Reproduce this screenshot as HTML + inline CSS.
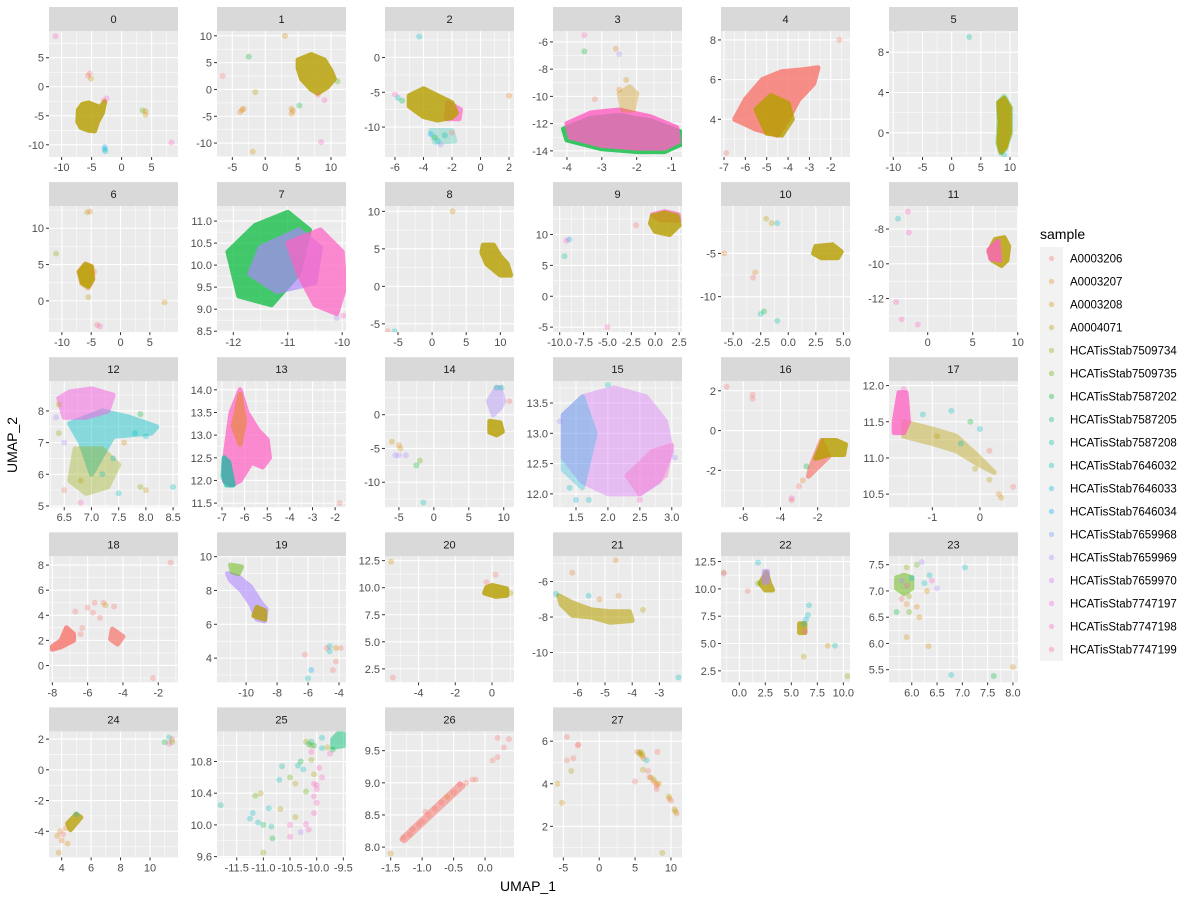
<!DOCTYPE html>
<html><head><meta charset="utf-8">
<style>
html,body{margin:0;padding:0;background:#fff;}
svg{display:block;font-family:"Liberation Sans","DejaVu Sans",sans-serif;}
</style></head>
<body>
<svg id="chart" width="1200" height="900" viewBox="0 0 1200 900" xmlns="http://www.w3.org/2000/svg">
<rect width="1200" height="900" fill="#fff"/>
<text x="528" y="891" text-anchor="middle" font-size="14" fill="#000">UMAP_1</text>
<text x="0" y="0" transform="translate(17,445) rotate(-90)" text-anchor="middle" font-size="14" fill="#000">UMAP_2</text>
</svg>
<script>
// ---- data ----
const samples = ["A0003206","A0003207","A0003208","A0004071","HCATisStab7509734","HCATisStab7509735","HCATisStab7587202","HCATisStab7587205","HCATisStab7587208","HCATisStab7646032","HCATisStab7646033","HCATisStab7646034","HCATisStab7659968","HCATisStab7659969","HCATisStab7659970","HCATisStab7747197","HCATisStab7747198","HCATisStab7747199"];
const clusterIds = [0,1,2,3,4,5,6,7,8,9,10,11,12,13,14,15,16,17,18,19,20,21,22,23,24,25,26,27];
const xLimits = [[-12.1,9.4],[-7.33,12.28],[-6.7,2.35],[-4.4,-0.7],[-7.14,-1.1],[-10.74,11.37],[-12.2,9.8],[-12.3,-9.93],[-6.9,12],[-10.7,2.8],[-6.1,5.6],[-4.3,10.03],[6.22,8.59],[-7.22,-1.52],[-6.99,11.47],[1.14,3.16],[-7.2,-0.26],[-1.91,0.8],[-8.19,-0.88],[-11.88,-3.55],[-5.83,1.2],[-6.91,-2.17],[-1.76,10.64],[5.55,8.1],[3.14,11.9],[-11.87,-9.45],[-1.59,0.46],[-6.44,11.54]];
const yLimits = [[-12.1,9.6],[-12.6,10.9],[-14.3,3.8],[-14.45,-5.2],[2.1,8.45],[-2.4,10.1],[-4.3,13.05],[8.48,11.34],[-6.1,10.7],[-5.8,14.6],[-14.1,0.47],[-13.93,-6.68],[4.96,8.94],[11.41,14.19],[-13.7,4.96],[11.78,13.86],[-3.85,2.48],[10.32,12.06],[-1.34,8.7],[2.57,10.02],[1.26,12.9],[-11.68,-4.58],[1.45,12.98],[5.26,7.66],[-5.7,2.5],[9.59,11.18],[7.84,9.8],[0.54,6.46]];
const xTicks = [[-10,-5,0,5],[-5,0,5,10],[-6,-4,-2,0,2],[-4,-3,-2,-1],[-7,-6,-5,-4,-3,-2],[-10,-5,0,5,10],[-10,-5,0,5],[-12,-11,-10],[-5,0,5,10],[-10,-7.5,-5,-2.5,0,2.5],[-5,-2.5,0,2.5,5],[0,5,10],[6.5,7,7.5,8,8.5],[-7,-6,-5,-4,-3,-2],[-5,0,5,10],[1.5,2,2.5,3],[-6,-4,-2],[-1,0],[-8,-6,-4,-2],[-10,-8,-6,-4],[-4,-2,0],[-6,-5,-4,-3],[0,2.5,5,7.5,10],[6,6.5,7,7.5,8],[4,6,8,10],[-11.5,-11,-10.5,-10,-9.5],[-1.5,-1,-0.5,0],[-5,0,5,10]];
const yTicks = [[-10,-5,0,5],[-10,-5,0,5,10],[-10,-5,0],[-14,-12,-10,-8,-6],[4,6,8],[0,4,8],[0,5,10],[8.5,9,9.5,10,10.5,11],[-5,0,5,10],[-5,0,5,10],[-10,-5],[-12,-10,-8],[5,6,7,8],[11.5,12,12.5,13,13.5,14],[-10,-5,0],[12,12.5,13,13.5],[-2,0,2],[10.5,11,11.5,12],[0,2,4,6,8],[4,6,8,10],[2.5,5,7.5,10,12.5],[-10,-8,-6],[2.5,5,7.5,10,12.5],[5.5,6,6.5,7,7.5],[-4,-2,0,2],[9.6,10,10.4,10.8],[8,8.5,9,9.5],[2,4,6]];
const xDigits = [0,0,0,0,0,0,0,0,0,1,1,0,1,0,0,1,0,0,0,0,0,0,1,1,0,1,1,0];
const yDigits = [0,0,0,0,0,0,0,1,0,0,0,0,0,1,0,1,0,1,0,0,1,0,1,1,0,1,1,0];
// dense clouds: [panel, sampleIndex, polygon x,y,..., density(0-1)]
const clouds = [
[0,3,[-7.2,-4,-6.5,-3,-5.5,-2.8,-4.5,-3.2,-3.6,-3.6,-2.8,-2.6,-3.2,-4.5,-4,-6,-4.5,-7.6,-5.5,-7.5,-6.8,-7,-7.3,-6],0.85],
[1,3,[5,5.5,7,6.5,9,5.5,10,3.5,10.5,2,9.5,0.5,8,-0.7,7,0,5.5,2,5,4],0.85],
[2,16,[-2.3,-6.5,-1.4,-7.5,-1.5,-8.8,-2.4,-8.8],0.7],
[2,3,[-5,-5.5,-4,-4.5,-3,-5.5,-2,-6.5,-1.7,-8,-2,-8.6,-3,-9,-4,-8.5,-5,-7],0.85],
[2,8,[-3.5,-10.5,-2,-10.5,-1.8,-12,-3.2,-12.2],0.25],
[3,6,[-4.1,-12.4,-3.3,-11.6,-2.5,-11.4,-1.6,-11.8,-0.75,-12.6,-0.72,-13.5,-1.2,-14.05,-2,-14.05,-3,-13.85,-4,-13.2],0.8],
[3,16,[-4,-12,-3.3,-11.2,-2.5,-11,-1.6,-11.5,-0.85,-12.3,-0.8,-13.3,-1.2,-13.8,-2,-13.8,-3,-13.6,-3.9,-13],0.85],
[3,2,[-2.4,-11,-2.5,-9.8,-2.2,-9.3,-2.0,-9.8,-2.1,-11],0.35],
[4,0,[-6,5,-5.2,6,-4.3,6.4,-3.3,6.5,-2.6,6.6,-2.8,5.8,-3.5,5,-4,4,-4.5,3.2,-5.5,3.5,-6.5,4,-6.2,4.6],0.85],
[4,3,[-5.5,4.5,-4.8,5.2,-4,4.8,-3.8,4,-4.3,3.2,-5,3.3],0.85],
[5,6,[8,3,9,3.6,10.1,2.5,10.1,0,9.2,-1.6,8.4,-2,7.9,-1,8.1,1],0.35],
[5,3,[8.1,3,9,3.4,9.9,2.5,9.9,0,9.2,-1.4,8.5,-1.9,8.1,-1,8.3,1],0.85],
[6,1,[-7.1,4,-6,5.1,-4.9,4.7,-4.7,3,-5.5,1.8,-6.6,2.4],0.5],
[6,3,[-7,4,-6,5,-5,4.7,-4.8,3,-5.5,2,-6.5,2.5],0.85],
[7,6,[-12.1,10.3,-11.6,10.9,-11,11.2,-10.6,10.8,-10.8,9.8,-11.3,9.1,-11.9,9.3],0.75],
[7,13,[-11.5,10.4,-10.8,10.8,-10.4,10.4,-10.5,9.6,-11.2,9.4,-11.7,9.8],0.7],
[7,16,[-11,10.5,-10.4,10.8,-10,10.3,-9.95,9.5,-10.1,8.9,-10.5,9.1,-10.8,9.8],0.75],
[8,3,[7.5,5.5,9,5.5,10,4,11,3,11.5,1.5,10,1.5,8,3,7.3,4.5],0.85],
[9,16,[-0.3,13.2,1,13.7,2.4,13.2,2.5,12.3,0.5,12.4],0.7],
[9,3,[-0.3,13,1,13.5,2.3,13,2.5,11.5,1.5,10,0,10.5,-0.5,11.8],0.85],
[10,3,[2.5,-4.2,4,-4,4.8,-4.8,4.5,-5.5,3,-5.5,2.3,-5],0.85],
[11,3,[7.5,-8.6,8.5,-8.5,9,-9,8.8,-9.8,8.2,-10.1,7.2,-9.8,6.8,-9.3],0.85],
[11,16,[6.8,-9.2,7.8,-8.7,8,-9.8,7,-9.7],0.8],
[12,9,[6.6,7.6,7.2,8.0,7.7,7.8,8.2,7.5,8.1,7.3,7.4,7.2,7.2,6.6,7.0,6.0,6.8,7.0],0.45],
[12,15,[6.4,8.4,6.6,8.6,7.0,8.7,7.4,8.5,7.3,8.0,6.9,7.8,6.5,7.8],0.55],
[12,4,[6.7,6.8,7.2,6.8,7.5,6.3,7.3,5.6,6.9,5.4,6.6,5.8],0.35],
[13,16,[-6.9,12.4,-6.6,13.5,-6.2,14,-5.9,13.5,-5.4,13.1,-5,12.9,-4.9,12.5,-5.2,12.3,-5.7,12.4,-6.2,12.0,-6.6,11.9,-6.9,12],0.75],
[13,8,[-6.9,12.5,-6.7,12.4,-6.5,11.9,-6.8,11.9,-6.95,12.1],0.7],
[13,1,[-6.5,13.2,-6.2,13.9,-6.0,13.3,-6.2,12.8],0.6],
[14,13,[7.8,2,8.5,0,9.5,1,10,2,9.5,4,9,4],0.4],
[14,3,[8,-1,9.5,-1.2,9.8,-2.5,9,-3,8,-2.6],0.85],
[15,14,[1.3,13.3,1.6,13.6,2.1,13.75,2.6,13.6,2.9,13.2,3.0,12.7,2.8,12.2,2.5,12.0,2.0,12.0,1.6,12.2,1.3,12.6],0.4],
[15,10,[1.3,13.3,1.6,13.6,1.8,13,1.6,12.1,1.3,12.4],0.3],
[15,16,[2.3,12.3,2.7,12.7,3.0,12.8,2.9,12.3,2.5,12.0],0.35],
[16,0,[-2.4,-1.9,-1.8,-0.5,-1.4,-1.3,-2.5,-2.3],0.7],
[16,3,[-2.1,-1.4,-1.7,-0.5,-1,-0.5,-0.5,-0.7,-0.6,-1.2,-1.4,-1.2],0.85],
[17,3,[-1.6,11.5,-1,11.4,-0.5,11.3,0,11,0.3,10.8,0,10.9,-0.5,11.1,-1,11.2,-1.6,11.3],0.4],
[17,16,[-1.8,11.5,-1.7,11.9,-1.55,11.9,-1.5,11.5,-1.6,11.35,-1.8,11.35],0.8],
[18,0,[-8,1.5,-7.5,2,-7.2,3,-6.8,2.5,-6.8,2,-7.5,1.5,-8,1.3],0.85],
[18,0,[-4.6,2.9,-4,2.3,-4.3,1.7,-4.7,2.1],0.75],
[19,13,[-11.2,9,-10.5,8.8,-9.7,8.2,-9,7.2,-8.7,6.9,-8.8,6.2,-9.3,6.3,-9.7,7.2,-10.3,8,-11,8.6],0.6],
[19,3,[-9.3,7,-8.8,6.8,-8.8,6.3,-9.5,6.5],0.8],
[19,5,[-11,9.5,-10.3,9.4,-10.5,9.0,-10.9,9.1],0.5],
[20,3,[-0.3,10,0,10.2,0.8,9.9,0.8,9.3,0.2,9.2,-0.4,9.5],0.85],
[21,3,[-6.7,-6.8,-6.2,-7.2,-5.5,-7.6,-4.8,-7.7,-4.1,-7.7,-4,-8.2,-4.8,-8.3,-5.5,-8,-6.2,-7.9,-6.6,-7.3],0.6],
[22,3,[2,10.5,2.6,11.5,2.9,10.5,3.2,9.9,2.5,9.9],0.8],
[22,13,[2.4,11.6,2.7,11.6,2.7,10.6,2.4,10.6],0.6],
[22,3,[5.8,6.8,6.3,6.8,6.3,6,5.8,6],0.8],
[23,5,[5.7,7.25,5.85,7.3,6.0,7.25,6.0,7.05,5.85,6.95,5.7,7.05],0.5],
[24,3,[4.4,-3.5,5,-2.9,5.3,-3.1,4.6,-3.9],0.8],
[25,7,[-9.7,11.08,-9.6,11.15,-9.5,11.15,-9.5,11.0,-9.7,10.98],0.5],
[26,0,[-1.32,8.12,-1.25,8.2,-0.4,8.98,-0.35,8.95,-1.28,8.1],0.55]
];
// isolated points: [panel, x, y, sampleIndex]
const points = [
[0,-11,8.7,16],[0,-5.6,1.9,0],[0,-5.3,2.3,0],[0,-5.1,1.4,2],[0,-2.5,-2,15],[0,-3,-2.4,0],[0,3.5,-4.1,5],[0,4,-4.2,2],[0,4,-4.8,2],[0,-2.8,-10.4,11],[0,-2.8,-10.8,10],[0,-2.7,-11.1,9],[0,8.3,-9.6,16],
[1,-6.5,2.5,0],[1,3,10,2],[1,-2.5,6.1,6],[1,-1.5,-0.5,3],[1,-3.5,-3.8,2],[1,-3.8,-4.2,1],[1,-3.3,-3.6,1],[1,4,-3.6,2],[1,4,-4.5,2],[1,4.2,-4,1],[1,5.2,-3,6],[1,-1.9,-11.6,2],[1,8.5,-9.8,16],[1,9,-2,16],[1,11,1.5,5],[1,8,-1,0],
[2,-5.8,-5.8,9],[2,-5.5,-6.2,6],[2,-6,-5.3,16],[2,-4.3,3,9],[2,2,-5.5,1],[2,-3.5,-11,11],[2,-2.8,-12.5,13],[2,-3.2,-11.5,6],[2,-2.5,-11.2,8],[2,-2,-10.8,0],[2,-3,-12,9],
[3,-3.5,-5.5,16],[3,-3.5,-6.7,6],[3,-2.6,-6.5,1],[3,-2.5,-6.9,13],[3,-2.3,-8.8,2],[3,-2.5,-9.5,1],[3,-3.2,-10.2,0],
[4,-1.6,8,0],[4,-6.9,2.3,0],
[5,-9.7,10.3,15],[5,3,9.5,8],[5,9,-2.2,9],
[6,-11,6.5,4],[6,-5.7,12.2,3],[6,-5.2,12.3,1],[6,-4.5,4,1],[6,-4,-3.3,0],[6,-3.5,-3.5,16],[6,7.5,-0.2,2],[6,-5.5,0.5,3],
[7,-10.1,8.8,13],[7,-9.98,8.85,16],
[8,3,10,2],[8,-6.5,-6,0],[8,-5.5,-6,9],
[9,-9,9.2,11],[9,-9.3,9,16],[9,-9.5,6.5,8],[9,-2,11.5,0],[9,-5,-5,16],
[10,-2,-1,3],[10,-1.5,-1.5,3],[10,-1,-1.5,9],[10,-3,-7.2,1],[10,-3.2,-7.8,0],[10,-5.8,-5,1],[10,-2.5,-12,8],[10,-2.2,-11.7,6],[10,-1,-12.8,8],
[11,-2.2,-7,16],[11,-3.3,-7.4,9],[11,-2.1,-8.2,16],[11,-3.5,-12.2,16],[11,-2.9,-13.2,16],[11,-1.1,-13.5,16],
[12,6.4,8.2,3],[12,6.35,7.8,13],[12,6.4,7.3,4],[12,6.5,7,13],[12,7.8,7.3,9],[12,8,7.2,9],[12,8.5,5.6,9],[12,7.9,5.6,4],[12,8,5.5,2],[12,6.5,5.5,0],[12,6.8,5.1,16],[12,7.5,5.4,9],[12,7.6,7,2],[12,6.8,5.8,3],[12,7.2,6,9],[12,7.4,6.5,9],[12,7.9,7.9,6],
[13,-1.8,11.5,0],
[14,9,4,8],[14,9.7,4,8],[14,10.8,2,0],[14,-6,-4,2],[14,-5,-4.5,1],[14,-4.8,-5,2],[14,-5,-6,13],[14,-4,-6,13],[14,-5.5,-6,13],[14,-2.5,-7.5,6],[14,-2,-6.8,5],[14,-1.5,-13,9],
[15,1.25,13.2,13],[15,1.4,12.1,9],[15,1.5,11.9,10],[15,1.7,11.9,9],[15,2.0,13.8,9],[15,3.05,12.6,13],[15,2.5,11.9,16],
[16,-2.8,-2.5,1],[16,-3,-2.8,0],[16,-3.4,-3.4,16],[16,-3.4,-3.5,0],[16,-2.6,-1.8,6],[16,-6.9,2.2,0],[16,-5.5,1.8,0],[16,-5.5,1.6,0],
[17,-0.9,11.3,3],[17,-0.4,11.2,9],[17,-0.2,11.5,6],[17,0,11.4,9],[17,0.2,11.1,0],[17,0.4,10.5,1],[17,0.45,10.45,2],[17,0.7,10.6,0],[17,-0.1,10.85,3],[17,-0.6,11.65,9],[17,-1.2,11.6,9],[17,0.2,10.7,3],[17,-1.6,11.95,16],
[18,-6.7,4.3,0],[18,-6,4.6,0],[18,-5.6,5,0],[18,-5.1,5,0],[18,-5,4.8,2],[18,-5.7,4.2,0],[18,-5.3,3.8,0],[18,-4.5,4.7,0],[18,-1.3,8.2,0],[18,-2.3,-1,0],[18,-6.3,3,0],[18,-6.4,2.5,0],
[19,-6.2,4.2,0],[19,-6,2.8,9],[19,-5.8,3.3,11],[19,-4.6,4.7,9],[19,-4.6,4.4,9],[19,-4.2,4.6,2],[19,-3.9,4.6,0],[19,-4.2,3.8,0],[19,-4.4,3.3,0],[19,-4.8,4.6,0],
[20,-5.5,12.4,2],[20,-5.4,1.7,0],[20,0.2,11.2,0],[20,-0.3,10.5,0],[20,1,9.5,3],
[21,-6.2,-5.5,1],[21,-4.6,-4.8,1],[21,-5.6,-6.8,9],[21,-5.2,-7,1],[21,-4.5,-6.8,1],[21,-3.6,-7.6,3],[21,-2.3,-11.4,9],[21,-6.8,-6.7,9],
[22,-1.5,11.5,4],[22,-1.5,11.4,16],[22,0.8,9.8,0],[22,1.8,12.4,9],[22,1.8,10.5,5],[22,6.2,6.8,9],[22,6.4,7.2,10],[22,6.6,7.6,9],[22,6.7,8.5,9],[22,6.2,3.8,3],[22,8.5,4.8,2],[22,9.2,4.8,8],[22,10.4,2,4],[22,6.3,6.1,16],
[23,5.8,7.2,13],[23,5.9,7.1,16],[23,6,7.25,10],[23,6.2,7.55,13],[23,6.1,7.5,5],[23,5.9,7.45,4],[23,6.35,7.3,9],[23,6.4,7.2,16],[23,6.25,7.15,9],[23,6.5,7.05,13],[23,7.05,7.45,9],[23,5.7,6.6,6],[23,5.8,6.85,0],[23,5.9,6.75,1],[23,5.95,6.6,5],[23,6.1,6.7,1],[23,6.15,6.5,2],[23,6.3,7,2],[23,5.9,6.12,2],[23,6.33,5.95,2],[23,6.78,5.4,9],[23,7.62,5.38,6],[23,8,5.55,2],[23,5.95,6.9,4],
[24,3.9,-4,1],[24,3.7,-4.3,2],[24,4,-4.6,1],[24,4.3,-3.8,1],[24,4.4,-4.8,2],[24,3.8,-5.4,2],[24,4.1,-4.2,0],[24,5,-2.9,9],[24,11,1.8,6],[24,11.3,2.1,9],[24,11.5,2,0],[24,11.3,1.7,16],[24,11.5,1.8,4],
[25,-11.8,10.25,8],[25,-11.15,10.37,5],[25,-11.05,10.4,3],[25,-11.2,10.15,9],[25,-11.25,10.08,9],[25,-11.1,10.03,9],[25,-11.0,10.0,6],[25,-10.9,10.21,9],[25,-10.85,9.98,8],[25,-10.83,9.83,6],[25,-11.0,9.65,4],[25,-10.7,10.57,9],[25,-10.65,10.74,8],[25,-10.68,10.2,3],[25,-10.5,10.6,5],[25,-10.4,10.52,3],[25,-10.35,10.75,8],[25,-10.3,10.8,6],[25,-10.25,10.7,9],[25,-10.2,10.42,5],[25,-10.5,10.0,16],[25,-10.5,9.85,16],[25,-10.4,10.1,3],[25,-10.3,9.91,13],[25,-10.2,10.01,16],[25,-10.15,9.94,16],[25,-10.1,10.92,16],[25,-10.05,10.64,3],[25,-10.05,10.52,16],[25,-10,10.5,16],[25,-10,10.45,16],[25,-10.05,10.36,16],[25,-10,10.28,16],[25,-10.05,10.15,16],[25,-9.95,10.72,16],[25,-9.9,10.6,16],[25,-10.1,10.82,4],[25,-9.9,10.97,9],[25,-9.7,10.95,6],[25,-9.8,10.98,3],[25,-9.75,10.9,16],[25,-9.9,11.1,9],[25,-10.2,11.05,4],[25,-10.1,11.0,3],[25,-10.05,11.0,6],[25,-10.1,11.05,7],[25,-10.15,11.02,6],
[26,-1.3,8.15,0],[26,-1.2,8.2,0],[26,-1.15,8.28,0],[26,-1.0,8.4,0],[26,-0.9,8.5,0],[26,-0.8,8.6,0],[26,-0.7,8.7,0],[26,-0.6,8.78,1],[26,-0.5,8.85,0],[26,-0.4,8.98,0],[26,-0.3,9.0,0],[26,-0.2,9.05,0],[26,-0.15,9.05,0],[26,0.12,9.35,0],[26,0.2,9.4,0],[26,0.3,9.55,0],[26,0.2,9.7,0],[26,0.38,9.68,0],[26,-1.5,7.9,2],[26,-0.95,8.55,0],[26,-1.05,8.35,0],
[27,-5.8,4,2],[27,-5.2,3.1,2],[27,-4.5,6.2,0],[27,-4.5,5.1,0],[27,-3.6,5.2,0],[27,-3,5.8,0],[27,-2.9,5.85,0],[27,-3.9,4.6,3],[27,5,4.1,0],[27,5.3,5.5,0],[27,5.7,5.4,3],[27,5.8,5.5,3],[27,5.6,5.45,3],[27,6,5.3,2],[27,6,5.4,3],[27,6.2,5.2,1],[27,6.6,5.1,9],[27,6.1,4.65,3],[27,6.8,4.6,0],[27,7,4.3,0],[27,7.2,4.3,2],[27,7.6,4.2,3],[27,7.6,4.1,1],[27,8,4,1],[27,8,3.9,0],[27,8.3,4,2],[27,8.1,5.5,0],[27,8,3.75,0],[27,9.7,3.4,3],[27,9.8,3.3,2],[27,10,3.2,0],[27,10.5,2.8,2],[27,10.6,2.7,3],[27,10.8,2.6,1],[27,8.8,0.75,3]
];

// ---- rendering ----
const NS = "http://www.w3.org/2000/svg";
const svg = document.getElementById("chart");
function mk(tag, attrs, parent){ const e=document.createElementNS(NS,tag); for(const k in attrs) e.setAttribute(k,attrs[k]); (parent||svg).appendChild(e); return e; }
function hcl(h){
  const L=65,C=100, hr=h*Math.PI/180;
  const u=C*Math.cos(hr), v=C*Math.sin(hr);
  const Y=Math.pow((L+16)/116,3);
  const un=0.19784, vn=0.46834;
  const up=u/(13*L)+un, vp=v/(13*L)+vn;
  const X=Y*9*up/(4*vp), Z=Y*(12-3*up-20*vp)/(4*vp);
  let r=3.2406*X-1.5372*Y-0.4986*Z, g=-0.9689*X+1.8758*Y+0.0415*Z, b=0.0557*X-0.2040*Y+1.0570*Z;
  const gm=c=>{c=Math.max(0,Math.min(1,c)); return Math.round(255*(c<=0.0031308?12.92*c:1.055*Math.pow(c,1/2.4)-0.055));};
  return "rgb("+gm(r)+","+gm(g)+","+gm(b)+")";
}
const colors = samples.map((s,i)=>hcl(15+360/samples.length*i));
const PX0=49, PW=129, PITCHX=168, PY0=31, PH=126, PITCHY=175.1, STRIP=24;
function fmt(v,d){ return v.toFixed(d); }
const panels = clusterIds.map((id,p)=>{
  const c=p%6, r=Math.floor(p/6);
  const x0=PX0+c*PITCHX, y0=PY0+r*PITCHY;
  const [xa,xb]=xLimits[p], [ya,yb]=yLimits[p];
  const sx=v=>x0+(v-xa)/(xb-xa)*PW, sy=v=>y0+PH-(v-ya)/(yb-ya)*PH;
  return {id,x0,y0,sx,sy};
});
panels.forEach((P,p)=>{
  const g=mk("g",{});
  
  
  const strip=mk("rect",{x:P.x0,y:P.y0-STRIP,width:PW,height:STRIP,fill:"#D9D9D9"},g);
  
  
  const st=mk("text",{x:P.x0+PW/2,y:P.y0-STRIP/2+4,"text-anchor":"middle","font-size":"11",fill:"#1A1A1A"},g);
  st.textContent=String(P.id);
  
  
  mk("rect",{x:P.x0,y:P.y0,width:PW,height:PH,fill:"#EBEBEB"},g);
  const cp=mk("clipPath",{id:"cp"+p},g); mk("rect",{x:P.x0,y:P.y0,width:PW,height:PH},cp);
  const xt=xTicks[p], yt=yTicks[p];
  const xs=xt[1]-xt[0], ys=yt[1]-yt[0];
  const grid=mk("g",{"clip-path":"url(#cp"+p+")"},g);
  for(let k=-1;k<xt.length;k++){ const v=xt[0]+(k+0.5)*xs; mk("line",{x1:P.sx(v),x2:P.sx(v),y1:P.y0,y2:P.y0+PH,stroke:"#fff","stroke-width":"0.55"},grid); }
  for(let k=-1;k<yt.length;k++){ const v=yt[0]+(k+0.5)*ys; mk("line",{y1:P.sy(v),y2:P.sy(v),x1:P.x0,x2:P.x0+PW,stroke:"#fff","stroke-width":"0.55"},grid); }
  xt.forEach(v=>{ const X=P.sx(v);
    mk("line",{x1:X,x2:X,y1:P.y0,y2:P.y0+PH,stroke:"#fff","stroke-width":"1.1"},grid);
    mk("line",{x1:X,x2:X,y1:P.y0+PH,y2:P.y0+PH+3,stroke:"#333","stroke-width":"1"},g);
    const t=mk("text",{x:X,y:P.y0+PH+14,"text-anchor":"middle","font-size":"11",fill:"#4D4D4D"},g); t.textContent=fmt(v,xDigits[p]);
    
    
  });
  yt.forEach(v=>{ const Y=P.sy(v);
    mk("line",{y1:Y,y2:Y,x1:P.x0,x2:P.x0+PW,stroke:"#fff","stroke-width":"1.1"},grid);
    mk("line",{y1:Y,y2:Y,x1:P.x0-3,x2:P.x0,stroke:"#333","stroke-width":"1"},g);
    const t=mk("text",{x:P.x0-5,y:Y+4,"text-anchor":"end","font-size":"11",fill:"#4D4D4D"},g); t.textContent=fmt(v,yDigits[p]);
    
    
  });
  const marks=mk("g",{"clip-path":"url(#cp"+p+")"},g);
  clouds.filter(c=>c[0]===p).forEach(c=>{
    const pts=[]; for(let i=0;i<c[2].length;i+=2) pts.push(P.sx(c[2][i]).toFixed(1)+","+P.sy(c[2][i+1]).toFixed(1));
    const poly=mk("polygon",{points:pts.join(" "),fill:colors[c[1]],stroke:colors[c[1]],"stroke-width":"5","stroke-linejoin":"round",opacity:String(c[3]*0.95)},marks);
    
    
  });
  points.filter(q=>q[0]===p).forEach(q=>{
    const ci=mk("circle",{cx:P.sx(q[1]),cy:P.sy(q[2]),r:"3",fill:colors[q[3]],"fill-opacity":"0.3"},marks);
    
    
  });
});
// legend
const lg=mk("g",{});


const lt=mk("text",{x:1040,y:239,"font-size":"14",fill:"#000"},lg); lt.textContent="sample";


mk("rect",{x:1040,y:247,width:23,height:samples.length*23,fill:"#F2F2F2"},lg);
samples.forEach((s,i)=>{
  const y=258.5+23*i;
  const k=mk("circle",{cx:1051.5,cy:y,r:"2.7",fill:colors[i],"fill-opacity":"0.35"},lg);
  
  
  const t=mk("text",{x:1070,y:y+4,"font-size":"11.5",fill:"#000"},lg); t.textContent=s;
  
  
});
</script>
</body></html>
